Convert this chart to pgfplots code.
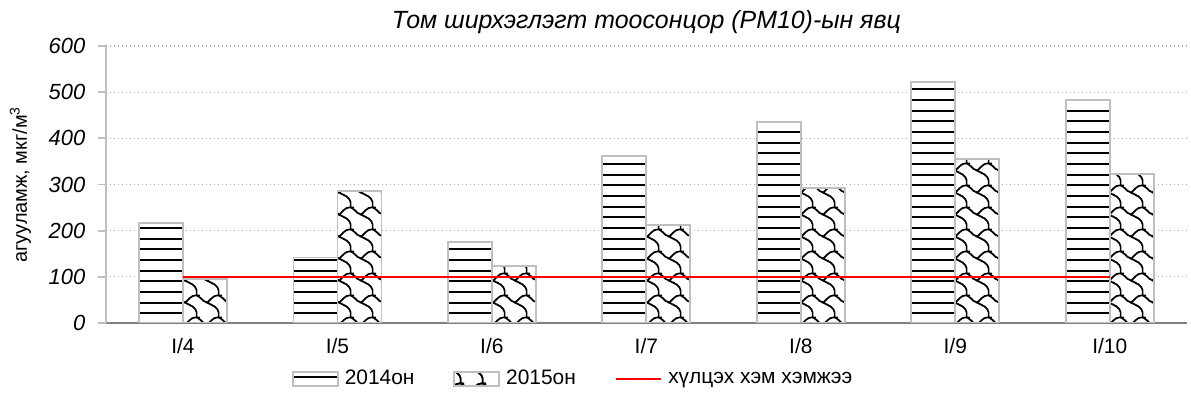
\documentclass[border=0pt]{standalone}
\usepackage{pgfplots}
\pgfplotsset{compat=1.18}
\usepackage{fontspec}
\setmainfont{Liberation Sans}
\usetikzlibrary{patterns}

\definecolor{gridgray}{RGB}{170,170,170}
\definecolor{bordergray}{RGB}{191,191,191}
\definecolor{xaxgray}{RGB}{128,128,128}

\pgfdeclarepatternformonly{hstripes}{\pgfpoint{-0.5bp}{0bp}}{\pgfpoint{10.5bp}{5.333bp}}{\pgfpoint{10bp}{5.333bp}}{
  \pgfsetlinewidth{1.1bp}
  \pgfpathmoveto{\pgfpoint{-0.5bp}{2.667bp}}
  \pgfpathlineto{\pgfpoint{10.5bp}{2.667bp}}
  \pgfusepath{stroke}}

\pgfdeclarepatternformonly{shingle}{\pgfpoint{-2bp}{-2bp}}{\pgfpoint{13bp}{13bp}}{\pgfpoint{11bp}{11bp}}{
  \pgfsetlinewidth{0.85bp}
  \pgfsetroundcap
  \pgfsetroundjoin
  \pgfsetcornersarced{\pgfpoint{0.9bp}{0.9bp}}
  \pgfpathmoveto{\pgfpoint{-0.69bp}{10.31bp}}
  \pgfpathlineto{\pgfpoint{0.69bp}{9.6bp}}
  \pgfpathlineto{\pgfpoint{3.44bp}{6.9bp}}
  \pgfpathlineto{\pgfpoint{4.81bp}{6.9bp}}
  \pgfpathlineto{\pgfpoint{6.19bp}{5.5bp}}
  \pgfpathlineto{\pgfpoint{7.56bp}{5.5bp}}
  \pgfpathlineto{\pgfpoint{10.31bp}{2.75bp}}
  \pgfpathlineto{\pgfpoint{10.31bp}{-0.69bp}}
  \pgfpathmoveto{\pgfpoint{4.81bp}{6.9bp}}
  \pgfpathlineto{\pgfpoint{7.56bp}{9.6bp}}
  \pgfpathlineto{\pgfpoint{8.94bp}{10.31bp}}
  \pgfpathlineto{\pgfpoint{11.69bp}{10.31bp}}
  \pgfusepath{stroke}}

\pgfplotstableread{
x v2014 v2015
0 216 95
1 142 286
2 176 123
3 361 212
4 436 293
5 522 356
6 483 322
}\pmdata

\begin{document}
\begin{tikzpicture}
\begin{axis}[
  scale only axis,
  width=540.65bp, height=138.5bp,
  xmin=-0.5, xmax=6.5,
  ymin=0, ymax=600,
  xtick={0,...,6},
  xticklabels={I/4,I/5,I/6,I/7,I/8,I/9,I/10},
  ytick={0,100,...,600},
  axis x line*=bottom,
  axis y line*=left,
  x axis line style={-, draw=xaxgray, line width=1bp},
  y axis line style={-, draw=bordergray, line width=0.9bp},
  xtick style={draw=none},
  ytick style={draw=bordergray, line width=0.9bp},
  ytick align=outside,
  major tick length=4bp,
  ymajorgrids,
  grid style={draw=gridgray, line width=0.6bp, dash pattern=on 0.7bp off 1.3bp},
  /pgf/number format/assume math mode=true,
  yticklabel style={font=\itshape\fontsize{11}{13}\selectfont, anchor=east, inner sep=0pt, xshift=-6bp},
  xticklabel style={font=\fontsize{10.5}{12}\selectfont, anchor=base, yshift=-15bp},
  title={Том ширхэглэгт тоосонцор (PM10)-ын явц},
  title style={font=\itshape\fontsize{12.5}{14}\selectfont, at={(axis description cs:0.5,1)}, anchor=base, yshift=3bp},
  ylabel={агууламж, мкг/м\textsuperscript{3}},
  ylabel style={font=\fontsize{10}{12}\selectfont, at={(axis description cs:-0.0729,0.5)}, anchor=base},
  legend columns=3,
  legend style={draw=none, fill=none, at={(axis description cs:0.172,-0.202)}, anchor=west, inner sep=0pt,
    font=\fontsize{10.5}{12}\selectfont,
    /tikz/every odd column/.style={column sep=1bp},
    /tikz/every even column/.style={column sep=17.5bp}},
]
\addplot[ybar, bar width=22bp, bar shift=-11bp, fill=white, draw=bordergray, line width=0.9bp,
  postaction={pattern=hstripes, pattern color=black},
  legend image code/.code={\draw[fill=white, draw=bordergray, line width=0.85bp, postaction={pattern=hstripes, pattern color=black}] (0bp,-3.5bp) rectangle (22.5bp,3.5bp);}]
  table[x=x, y=v2014] {\pmdata};
\addlegendentry{2014он}
\addplot[ybar, bar width=22bp, bar shift=11bp, fill=white, draw=bordergray, line width=0.9bp,
  postaction={pattern=shingle, pattern color=black},
  legend image code/.code={\draw[fill=white, draw=bordergray, line width=0.85bp, postaction={pattern=shingle, pattern color=black}] (0bp,-3.5bp) rectangle (22.5bp,3.5bp);}]
  table[x=x, y=v2015] {\pmdata};
\addlegendentry{2015он}
\addplot[red, line width=1.2bp, mark=none,
  legend image code/.code={\draw[red, line width=1.2bp] (0bp,0bp) -- (22.5bp,0bp);}]
  coordinates {(0,100) (6,100)};
\addlegendentry{хүлцэх хэм хэмжээ}
\end{axis}
\pgfresetboundingbox
\path[use as bounding box] (-52.85bp,-40.5bp) rectangle (542.65bp,161.5bp);
\end{tikzpicture}
\end{document}
